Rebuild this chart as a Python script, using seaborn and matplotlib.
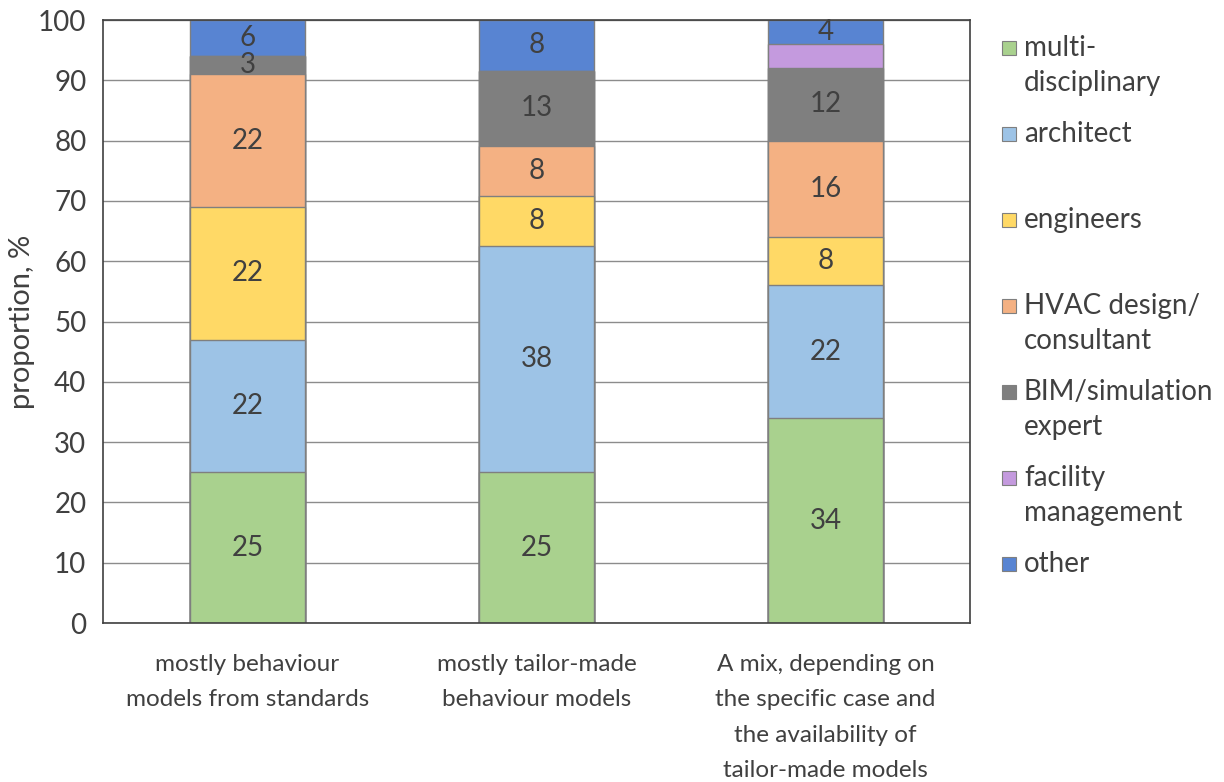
import pandas as pd
import numpy as np
import matplotlib.pyplot as plt
import seaborn as sns
from matplotlib.patches import Rectangle

categories = ["mostly behaviour\nmodels from standards",
              "mostly tailor-made\nbehaviour models",
              "A mix, depending on\nthe specific case and\nthe availability of\ntailor-made models"]
groups = ["multi-\ndisciplinary", "architect", "engineers", "HVAC design/\nconsultant",
          "BIM/simulation\nexpert", "facility\nmanagement", "other"]
multi = [25, 25, 34]
architect = [22, 37.5, 22]
engineers = [22, 8.3, 8]
hvac = [22, 8.3, 16]
bim = [3, 12.5, 12]
facility = [0, 0, 4]
other = [6, 8.4, 4]
show_label = [True, True, True, True, True, False, True]

colors = ["#A9D18E", "#9DC3E6", "#FFD966", "#F4B183", "#7F7F7F", "#C49ADE", "#5884D2"]
text_col = "#404040"

sns.set_style("white")
plt.rcParams['font.family'] = ['Lato', 'DejaVu Sans']

series = [multi, architect, engineers, hvac, bim, facility, other]
vals = np.array(series, dtype=float)
cum = np.cumsum(vals, axis=0)

fig = plt.figure(figsize=(12.24, 7.82), dpi=100)
ax = fig.add_axes([0.0842, 0.2033, 0.7083, 0.7711])

# draw cumulative totals from the top layer down so each layer covers the rest
for i in range(len(groups) - 1, -1, -1):
    df = pd.DataFrame({"cat": categories, "val": cum[i]})
    sns.barplot(data=df, x="cat", y="val", color=colors[i], width=0.4,
                edgecolor="#7F7F7F", linewidth=1.0, saturation=1, ax=ax, zorder=2)

# value labels
for i in range(len(groups)):
    if not show_label[i]:
        continue
    for j in range(len(categories)):
        v = vals[i, j]
        if v <= 0:
            continue
        mid = cum[i, j] - v / 2
        ax.text(j, mid, f"{int(v + 0.5)}", ha="center", va="center",
                fontsize=20, color=text_col, zorder=5)

ax.set_ylim(0, 100)
ax.set_xlim(-0.5, 2.5)
ax.set_yticks(np.arange(0, 101, 10))
ax.yaxis.grid(True, color="#8C8C8C", linewidth=1.0, zorder=0)
ax.set_axisbelow(True)
for s in ax.spines.values():
    s.set_visible(True)
    s.set_color("#404040")
    s.set_linewidth(1.2)
ax.tick_params(axis="y", length=0, labelsize=20, labelcolor=text_col, pad=12)
ax.tick_params(axis="x", length=0, labelsize=17.5, labelcolor=text_col, pad=22)
for lbl in ax.get_xticklabels():
    lbl.set_linespacing(1.86)
ax.set_xlabel("")
ax.set_ylabel("proportion, %", fontsize=21, color=text_col, labelpad=2)

# legend on the right, one entry per group
y0 = 1 - 48 / 782
step = 86 / 782
for i, g in enumerate(groups):
    y = y0 - i * step
    fig.patches.append(Rectangle((1002 / 1224, y - 7 / 782), 14 / 1224, 14 / 782,
                                 transform=fig.transFigure, facecolor=colors[i],
                                 edgecolor="#7F7F7F", linewidth=0.8))
    fig.text(1024 / 1224, y + 13 / 782, g, ha="left", va="top", fontsize=20,
             color=text_col, linespacing=1.45)

fig.savefig("out.png", dpi=100)
